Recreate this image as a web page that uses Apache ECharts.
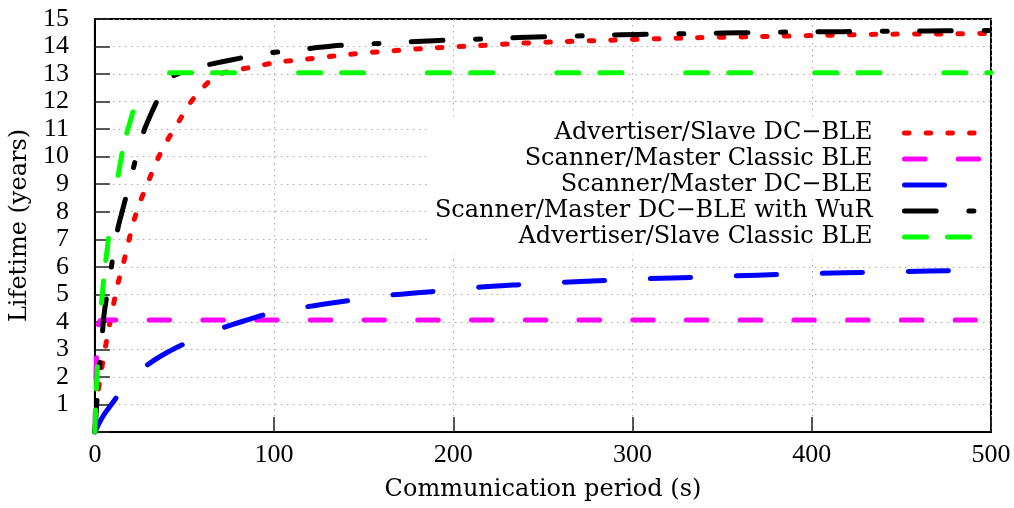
<!DOCTYPE html>
<html>
<head>
<meta charset="utf-8">
<script src="https://cdn.jsdelivr.net/npm/echarts@6/dist/echarts.min.js"></script>
<style>
  html, body { margin: 0; padding: 0; background: #fff; }
  #chart { width: 1014px; height: 508px; }
</style>
</head>
<body>
<div id="chart"></div>
<script>
// Series names (legend order)
const seriesNames = [
  'Advertiser/Slave DC\u2212BLE',
  'Scanner/Master Classic BLE',
  'Scanner/Master DC\u2212BLE',
  'Scanner/Master DC\u2212BLE with WuR',
  'Advertiser/Slave Classic BLE'
];

// [communication period (s), lifetime (years)]
const advertiserDcBle = [
  [0, 0], [0.5, 0.55], [1.5, 1.3], [3.5, 2.2], [5.5, 2.95], [7.6, 3.7], [10, 4.5],
  [12.3, 5.25], [15.6, 6.05], [18.4, 6.8], [21.2, 7.55], [25, 8.32], [29.5, 9.04],
  [34, 9.77], [39.6, 10.5], [46.3, 11.22], [52.4, 11.88], [60.2, 12.5], [68.6, 12.97],
  [79.7, 13.15], [91.4, 13.3], [102.6, 13.44], [116.7, 13.53], [140.9, 13.71],
  [165, 13.84], [189, 13.95], [213, 14.03], [237.5, 14.12], [262, 14.18],
  [286.7, 14.23], [335, 14.32], [371, 14.36], [408, 14.41], [444.6, 14.45],
  [481, 14.46], [500, 14.48]
];

const scannerClassicBle = [
  [0, 0], [0.5, 1.6], [1, 2.9], [1.5, 3.6], [2, 3.9], [3, 4.05], [4, 4.07], [500, 4.07]
];

const scannerDcBle = [
  [0, 0], [3, 0.4], [6, 0.72], [10, 1.07], [13.4, 1.38], [20, 1.9], [30, 2.47],
  [40, 2.88], [50.7, 3.23], [60, 3.5], [72.5, 3.81], [85, 4.07], [96.4, 4.29],
  [118.5, 4.55], [143.6, 4.79], [166, 4.98], [191, 5.12], [214, 5.26], [239, 5.36],
  [261, 5.44], [287, 5.51], [309, 5.57], [335, 5.62], [357, 5.67], [382, 5.72],
  [405, 5.76], [431, 5.8], [453, 5.83], [478, 5.86], [500, 5.88]
];

const scannerDcBleWuR = [
  [0, 0], [1, 1.0], [2, 1.85], [3, 2.65], [4, 3.45], [5, 4.2], [6.5, 4.9], [8.5, 5.7],
  [11, 6.75], [13, 7.45], [15.6, 8.1], [18, 8.7], [20, 9.2], [22.5, 9.85], [25, 10.45],
  [28, 11.05], [32, 11.65], [36, 12.2], [40.7, 12.7], [43, 12.9], [48, 13.05],
  [56, 13.22], [66, 13.38], [76, 13.51], [85, 13.63], [94, 13.74], [113, 13.88],
  [132.5, 14.02], [151, 14.09], [170, 14.15], [189, 14.21], [209, 14.26], [227, 14.3],
  [246, 14.35], [265, 14.38], [284, 14.41], [303, 14.44], [322, 14.46], [341, 14.48],
  [360, 14.5], [380, 14.52], [398, 14.53], [417, 14.54], [436, 14.55], [455, 14.56],
  [474, 14.57], [500, 14.58]
];

const advertiserClassicBle = [
  [0, 0], [0.5, 1.0], [1, 1.8], [1.5, 2.5], [2, 3.1], [3, 4.1], [4, 4.9], [5, 5.6],
  [6, 6.2], [7, 6.7], [8, 7.3], [10, 8.15], [12, 8.95], [14, 9.7], [16, 10.4],
  [18, 10.9], [20, 11.35], [22, 11.8], [24, 12.2], [26, 12.6], [28, 12.88],
  [30, 13.05], [500, 13.05]
];

// Axis ranges and tick steps
const xRange = [0, 500];
const xStep = 100;
const yRange = [0, 15];
const yStep = 1;

const NUM_FONT = 'Liberation Serif';
const TEXT_FONT = 'DejaVu Serif';

function lineSeries(name, data, color, dash) {
  return {
    name: name,
    type: 'line',
    data: data,
    symbol: 'none',
    showSymbol: false,
    smooth: 0.3,
    clip: true,
    lineStyle: { color: color, width: 5, type: dash, cap: 'round', join: 'round' },
    itemStyle: { color: color },
    emphasis: { disabled: true }
  };
}

const chart = echarts.init(document.getElementById('chart'), null, { renderer: 'canvas' });

chart.setOption({
  animation: false,
  backgroundColor: '#fff',
  grid: {
    left: 94, right: 23, top: 19, bottom: 76,
    show: true, borderColor: '#000', borderWidth: 2, backgroundColor: 'transparent'
  },
  xAxis: {
    type: 'value',
    min: xRange[0], max: xRange[1], interval: xStep,
    name: 'Communication period (s)',
    nameLocation: 'middle',
    nameGap: 46,
    nameTextStyle: { fontFamily: TEXT_FONT, fontSize: 24, color: '#000' },
    axisLine: { show: true, onZero: false, lineStyle: { color: '#000', width: 2 } },
    axisTick: { show: true, inside: true, length: 15, lineStyle: { color: '#222', width: 1.5 } },
    axisLabel: { margin: 10, fontFamily: NUM_FONT, fontSize: 26, color: '#000' },
    splitLine: { show: true, lineStyle: { color: '#aaa', width: 1, type: [1.5, 4.5] } }
  },
  yAxis: {
    type: 'value',
    min: yRange[0], max: yRange[1], interval: yStep,
    name: 'Lifetime (years)',
    nameLocation: 'middle',
    nameGap: 59,
    nameTextStyle: { fontFamily: TEXT_FONT, fontSize: 24, color: '#000' },
    axisLine: { show: true, onZero: false, lineStyle: { color: '#000', width: 2 } },
    axisTick: { show: true, inside: true, length: 15, lineStyle: { color: '#222', width: 1.5 } },
    axisLabel: {
      margin: 26, fontFamily: NUM_FONT, fontSize: 26, color: '#000',
      formatter: function (v) { return v === 0 ? '' : String(v); }
    },
    splitLine: { show: true, lineStyle: { color: '#aaa', width: 1, type: [1.5, 4.5] } }
  },
  legend: {
    orient: 'vertical',
    right: 24,
    top: 116,
    align: 'right',
    itemWidth: 75,
    itemHeight: 10,
    itemGap: 0,
    padding: [4, 8, 4, 8],
    backgroundColor: '#fff',
    selectedMode: false,
    textStyle: { fontFamily: TEXT_FONT, fontSize: 24, color: '#000', lineHeight: 26, padding: [0, 27, 0, 0] },
    itemStyle: { opacity: 0, borderWidth: 0 },
    lineStyle: { width: 5 },
    data: seriesNames
  },
  series: [
    lineSeries(seriesNames[0], advertiserDcBle, '#ff0000', [4.5, 17.2]),
    lineSeries(seriesNames[1], scannerClassicBle, '#ff00ff', [20.5, 33.2]),
    lineSeries(seriesNames[2], scannerDcBle, '#0000ff', [40, 46]),
    lineSeries(seriesNames[3], scannerDcBleWuR, '#000000', [31.7, 32.7, 5, 32.3]),
    lineSeries(seriesNames[4], advertiserClassicBle, '#00ff00', [22, 21, 22, 64])
  ]
});
</script>
</body>
</html>
